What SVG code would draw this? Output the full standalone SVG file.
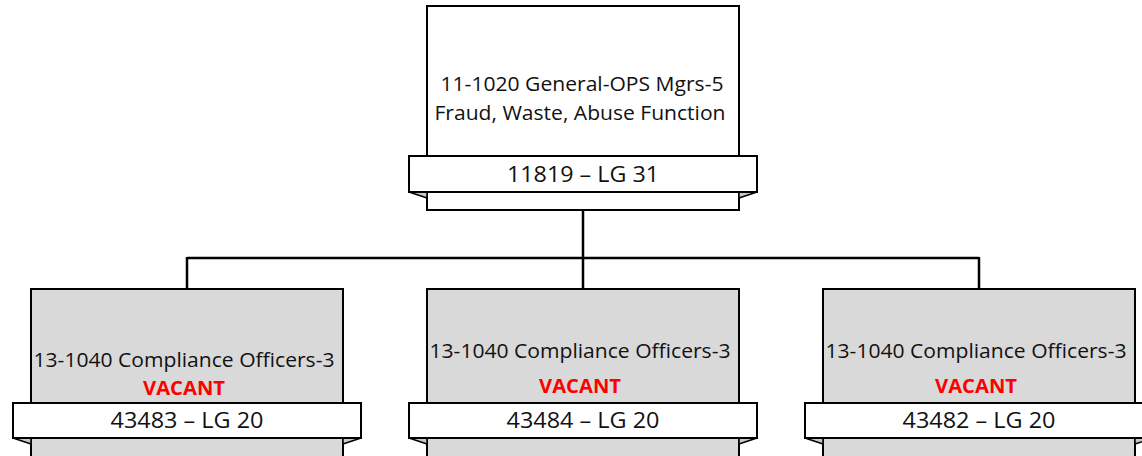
<svg xmlns="http://www.w3.org/2000/svg" width="1142" height="456" viewBox="0 0 1142 456">
<style>
.box{stroke:#000;stroke-width:2}
.top{fill:#fff}
.pos{fill:#d9d9d9}
.rib{fill:#fff;stroke:#000;stroke-width:2}
.fold{fill:#c8c8c8;stroke:#000;stroke-width:1.5;stroke-linejoin:round}
.t{font-family:"Open Sans","Liberation Sans",sans-serif;font-size:20px;fill:#111;text-anchor:middle}
.v{font-family:"Open Sans","Liberation Sans",sans-serif;font-size:19px;font-weight:bold;fill:#ff0000;text-anchor:middle}
.r{font-family:"Open Sans","Liberation Sans",sans-serif;font-size:21.5px;fill:#111;text-anchor:middle}
.c{fill:none;stroke:#000;stroke-width:2.5}
</style>
<rect width="1142" height="456" fill="#fff"/>
<g id="connectors">
<path class="c" d="M583 210V258M187 258H979M187 257V289M583 258V289M979 257V289"/>
</g>
<g id="n0">
<rect class="box top" x="427" y="6" width="312" height="204"/>
<polygon class="fold" points="409,192 427,192 427,198"/>
<polygon class="fold" points="757,192 739,192 739,198"/>
<rect class="rib" x="409" y="156" width="348" height="36"/>
<text class="t" x="582" y="91" textLength="283" lengthAdjust="spacingAndGlyphs">11-1020 General-OPS Mgrs-5</text>
<text class="t" x="580" y="120" textLength="291" lengthAdjust="spacingAndGlyphs">Fraud, Waste, Abuse Function</text>
<text class="r" x="583" y="182" textLength="152" lengthAdjust="spacingAndGlyphs">11819 – LG 31</text>
</g>
<g id="n1">
<rect class="box pos" x="31" y="289" width="312" height="180"/>
<polygon class="fold" points="13,438 31,438 31,444"/>
<polygon class="fold" points="361,438 343,438 343,444"/>
<rect class="rib" x="13" y="403" width="348" height="35"/>
<text class="t" x="184" y="367" textLength="301" lengthAdjust="spacingAndGlyphs">13-1040 Compliance Officers-3</text>
<text class="v" x="184" y="395" textLength="82" lengthAdjust="spacingAndGlyphs">VACANT</text>
<text class="r" x="187" y="428" textLength="153" lengthAdjust="spacingAndGlyphs">43483 – LG 20</text>
</g>
<g id="n2">
<rect class="box pos" x="427" y="289" width="312" height="180"/>
<polygon class="fold" points="409,438 427,438 427,444"/>
<polygon class="fold" points="757,438 739,438 739,444"/>
<rect class="rib" x="409" y="403" width="348" height="35"/>
<text class="t" x="580" y="358" textLength="301" lengthAdjust="spacingAndGlyphs">13-1040 Compliance Officers-3</text>
<text class="v" x="580" y="393" textLength="82" lengthAdjust="spacingAndGlyphs">VACANT</text>
<text class="r" x="583" y="428" textLength="153" lengthAdjust="spacingAndGlyphs">43484 – LG 20</text>
</g>
<g id="n3">
<rect class="box pos" x="823" y="289" width="312" height="180"/>
<polygon class="fold" points="805,438 823,438 823,444"/>
<polygon class="fold" points="1153,438 1135,438 1135,444"/>
<rect class="rib" x="805" y="403" width="348" height="35"/>
<text class="t" x="976" y="358" textLength="301" lengthAdjust="spacingAndGlyphs">13-1040 Compliance Officers-3</text>
<text class="v" x="976" y="393" textLength="82" lengthAdjust="spacingAndGlyphs">VACANT</text>
<text class="r" x="979" y="428" textLength="153" lengthAdjust="spacingAndGlyphs">43482 – LG 20</text>
</g>
</svg>
